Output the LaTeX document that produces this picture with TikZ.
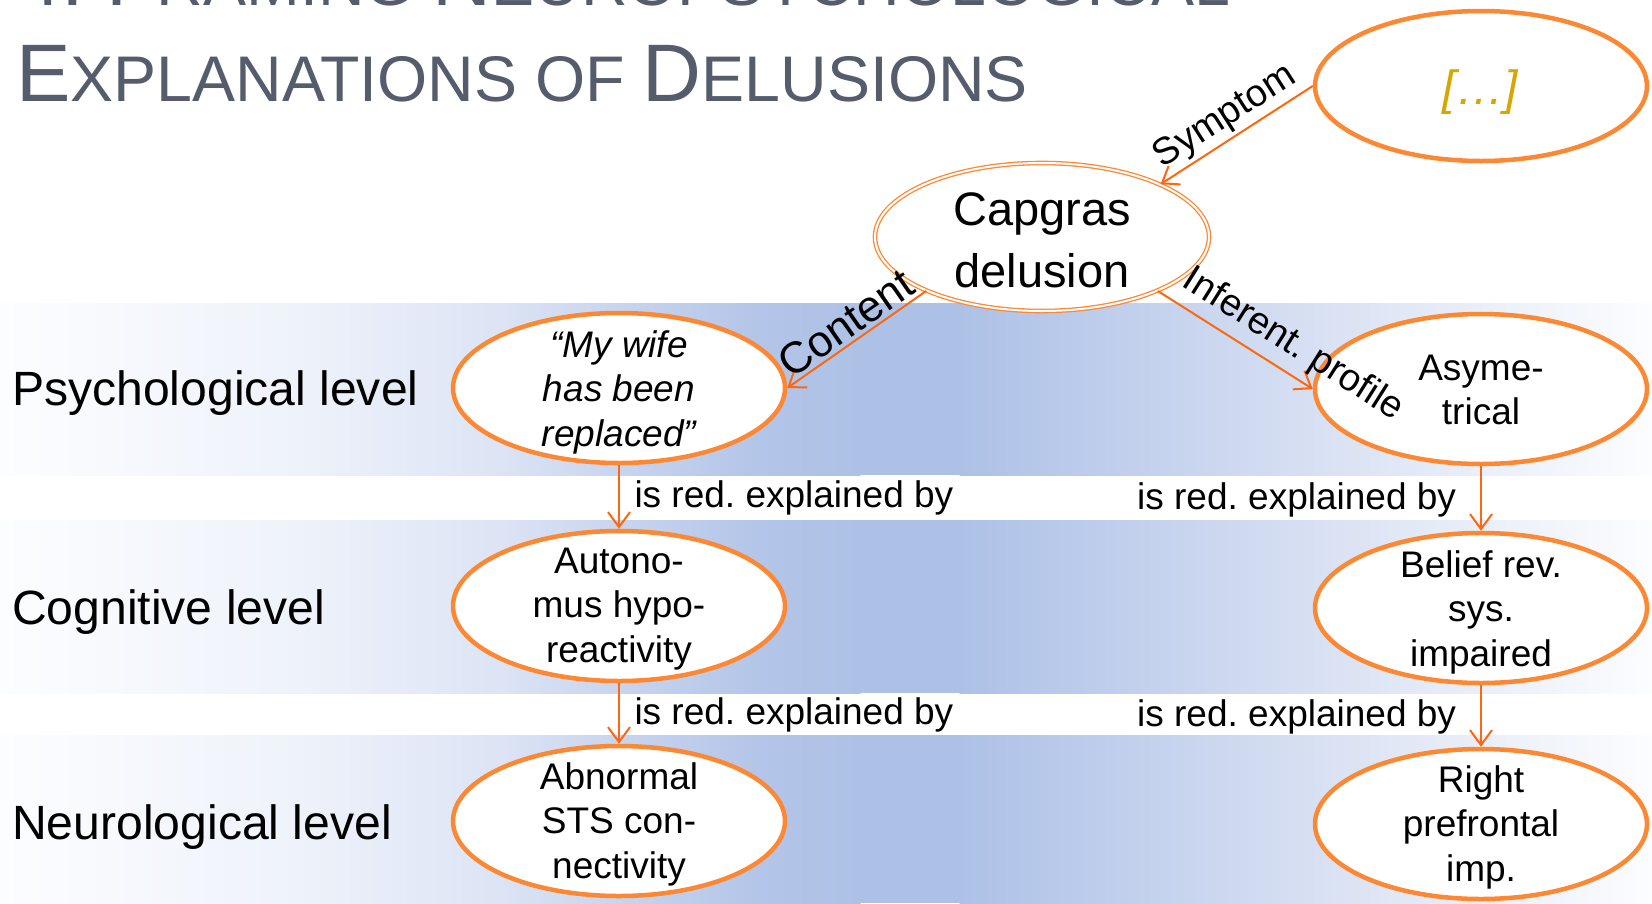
\documentclass[tikz,border=0pt]{standalone}
\usepackage{fontspec}
\setmainfont{Liberation Sans}
\usetikzlibrary{shapes.geometric,arrows.meta}

\definecolor{ringorange}{RGB}{253,136,52}
\definecolor{arroworange}{RGB}{252,104,16}
\definecolor{bandblue}{RGB}{173,193,230}
\definecolor{bandpale}{RGB}{252,253,255}
\definecolor{bandA}{RGB}{238,242,250}
\definecolor{bandB}{RGB}{220,228,245}
\definecolor{bandC}{RGB}{195,209,237}
\definecolor{bandD}{RGB}{179,197,232}
\definecolor{bandE}{RGB}{190,205,236}
\definecolor{bandF}{RGB}{214,223,242}
\definecolor{titlegrey}{RGB}{85,92,107}
\definecolor{ellipsisgold}{RGB}{212,168,0}

\newcommand\fsz[2]{\fontsize{#1}{#2}\selectfont}
\newcommand\capsz{\fontsize{81.6}{90}\selectfont}
\newcommand\smcsz{\fontsize{64.5}{72}\selectfont}

\tikzset{
  ring/.style={ellipse, draw=ringorange, line width=4.5pt, fill=white,
    minimum width=332pt, minimum height=150pt, inner sep=0pt},
  capring/.style={ellipse, draw=ringorange, line width=1.3pt, double=white,
    double distance=2pt, fill=white, minimum width=334pt, minimum height=148pt,
    inner sep=0pt},
  ringtext/.style={align=center, font=\fsz{37}{44.5}, inner sep=0pt},
  captext/.style={align=center, font=\fsz{47}{62}, inner sep=0pt},
  leveltext/.style={anchor=base west, font=\fsz{48.1}{56}, inner sep=0pt},
  titletext/.style={anchor=base west, text=titlegrey, inner sep=0pt},
  arr/.style={draw=arroworange, line width=2pt,
    -{Straight Barb[length=15pt,width=22pt]}},
  gapleft/.style={anchor=base west, xshift=11.5pt, yshift=-10.5pt,
    font=\fsz{37}{44}, inner sep=3pt},
  gapright/.style={anchor=base east, xshift=-21pt, yshift=-10.5pt,
    font=\fsz{37}{44}, inner sep=3pt},
  edgelbl/.style={sloped, font=\fsz{38}{40}, inner sep=3pt},
}

\begin{document}
\frenchspacing
\begin{tikzpicture}[x=1pt, y=-1pt]
\useasboundingbox (0,0) rectangle (1652,903);
\clip (0,0) rectangle (1652,903);

% three shaded level bands: pale at both ends, blue in the middle
\foreach \ya/\yb in {303/475, 520/693, 735/903} {
  \foreach \xa/\xb/\ca/\cb in {0/300/bandpale/bandA, 300/500/bandA/bandB,
      500/650/bandB/bandC, 650/760/bandC/bandD, 760/860/bandD/bandblue,
      960/1100/bandblue/bandE, 1100/1300/bandE/bandF, 1300/1652/bandF/bandpale} {
    \fill[left color=\ca, right color=\cb] (\xa-0.5,\ya) rectangle (\xb+0.5,\yb);
  }
  \fill[bandblue] (859.5,\ya) rectangle (960.5,\yb);
}

% heading
\node[titletext] (title1) at (16,5)
  {{\capsz 4. F}{\smcsz RAMING }{\capsz N}{\smcsz EUROPSYCHOLOGICAL}};
\node[titletext] (title2) at (16,101)
  {{\capsz E}{\smcsz XPLANATIONS OF }{\capsz D}{\smcsz ELUSIONS}};

% level names
\node[leveltext] (lv-psy) at (12,405) {Psychological level};
\node[leveltext] (lv-cog) at (12,624) {Cognitive level};
\node[leveltext] (lv-neu) at (12,839) {Neurological level};

% ellipses
\node[ring] (etc) at (1481,86) {};
\node[font=\fsz{48}{50}, text=ellipsisgold, inner sep=0pt] (etc-t) at (1480,92) {\itshape […]};

\node[capring] (cap) at (1042,237) {};
\node[captext] (cap-t) at (1042,240) {Capgras\\delusion};

\node[ring] (psy-l) at (619,388) {};
\node[ringtext] (psy-l-t) at (619,392) {\itshape “My wife\\\itshape has been\\\itshape replaced”};
\node[ring] (psy-r) at (1481,389) {};
\node[ringtext] (psy-r-t) at (1481,390) {Asyme-\\trical};

\node[ring] (cog-l) at (619,606) {};
\node[ringtext] (cog-l-t) at (619,609) {Autono-\\mus hypo-\\reactivity};
\node[ring] (cog-r) at (1481,608) {};
\node[ringtext] (cog-r-t) at (1481,612) {Belief rev.\\sys.\\impaired};

\node[ring] (neu-l) at (619,821) {};
\node[ringtext] (neu-l-t) at (619,824) {Abnormal\\STS con-\\nectivity};
\node[ring] (neu-r) at (1481,824) {};
\node[ringtext] (neu-r-t) at (1481,827) {Right\\prefrontal\\imp.};

% relations from the delusion
\draw[arr] (etc.west) -- node[edgelbl, above] (lbl-sym) {Symptom} (cap.24);
\draw[arr] (cap.205) -- node[edgelbl, above, font=\fsz{44}{46}] (lbl-con) {Content} (psy-l.east);
\draw[arr] (cap.-25) -- node[edgelbl, above=5pt, pos=0.78] (lbl-inf) {Inferent. profile} (psy-r.west);

% reductive explanations between levels
\draw[arr] (psy-l) -- node[gapleft] (g1l) {is red. explained by} (cog-l);
\draw[arr] (cog-l) -- node[gapleft] (g2l) {is red. explained by} (neu-l);
\draw[arr] (psy-r) -- node[gapright] (g1r) {is red. explained by} (cog-r);
\draw[arr] (cog-r) -- node[gapright] (g2r) {is red. explained by} (neu-r);
\end{tikzpicture}
\end{document}
